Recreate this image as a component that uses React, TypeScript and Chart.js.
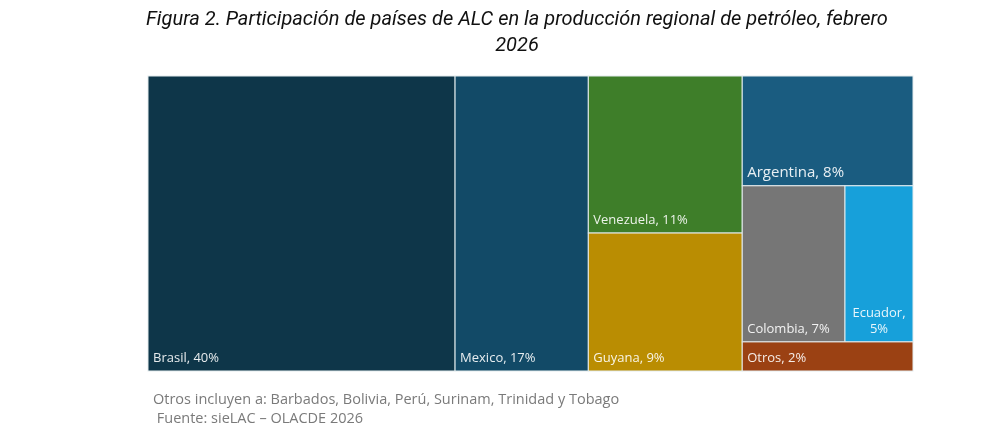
import React, { useEffect, useRef } from 'react';
import { Chart, registerables } from 'chart.js';

Chart.register(...registerables);

const titleLines = ['Figura 2. Participación de países de ALC en la producción regional de petróleo, febrero', '2026'];
const noteLines = ['Otros incluyen a: Barbados, Bolivia, Perú, Surinam, Trinidad y Tobago', ' Fuente: sieLAC – OLACDE 2026'];

const categories = ['Brasil', 'Mexico', 'Venezuela', 'Guyana', 'Argentina', 'Colombia', 'Ecuador', 'Otros'];
// shares (%); labels show them rounded
const shares = [40.1, 17.4, 10.7, 9.4, 8.3, 7.1, 4.7, 2.2];
const colors = ['#0E3649', '#124A67', '#3E7E29', '#BA8D02', '#1A5C80', '#767676', '#17A0DA', '#9B4113'];
const labelSizes = [13, 13, 13, 13, 15, 13, 13, 13];

// treemap nesting: columns left→right; each column stacks items top→bottom; an inner array splits a row side by side
const layoutTree: (string | string[])[][] = [
  ['Brasil'],
  ['Mexico'],
  ['Venezuela', 'Guyana'],
  ['Argentina', ['Colombia', 'Ecuador'], 'Otros'],
];

type Rect = { i: number; x0: number; x1: number; y0: number; y1: number };

const valOf = (name: string) => shares[categories.indexOf(name)];
const sumOf = (item: string | string[]) =>
  Array.isArray(item) ? item.reduce((s, n) => s + valOf(n), 0) : valOf(item);

function computeRects(): { rects: Rect[]; total: number } {
  const total = shares.reduce((a, b) => a + b, 0);
  const rects: Rect[] = [];
  let x = 0;
  for (const col of layoutTree) {
    const w = col.reduce((s, it) => s + sumOf(it), 0);
    let yTop = 100;
    for (const item of col) {
      const h = (sumOf(item) / w) * 100;
      if (Array.isArray(item)) {
        const rowSum = sumOf(item);
        let xx = x;
        for (const n of item) {
          const ww = (valOf(n) / rowSum) * w;
          rects.push({ i: categories.indexOf(n), x0: xx, x1: xx + ww, y0: yTop - h, y1: yTop });
          xx += ww;
        }
      } else {
        rects.push({ i: categories.indexOf(item), x0: x, x1: x + w, y0: yTop - h, y1: yTop });
      }
      yTop -= h;
    }
    x += w;
  }
  return { rects, total };
}

const LABEL_FONT = '"Open Sans", "Noto Sans", sans-serif';

const treemapPlugin = {
  id: 'treemapCells',
  afterDatasetsDraw(chart: any) {
    const { ctx } = chart;
    const xs = chart.scales.x;
    const ys = chart.scales.y;
    const { rects } = computeRects();
    ctx.save();
    for (const r of rects) {
      const left = xs.getPixelForValue(r.x0);
      const right = xs.getPixelForValue(r.x1);
      const top = ys.getPixelForValue(r.y1);
      const bottom = ys.getPixelForValue(r.y0);
      ctx.fillStyle = colors[r.i];
      ctx.fillRect(left, top, right - left, bottom - top);
      ctx.strokeStyle = '#E4ECEE';
      ctx.lineWidth = 1;
      ctx.strokeRect(left, top, right - left, bottom - top);

      const text = `${categories[r.i]}, ${Math.round(shares[r.i])}%`;
      const size = labelSizes[r.i];
      ctx.font = `${size}px ${LABEL_FONT}`;
      ctx.fillStyle = 'rgba(255,255,255,0.9)';
      ctx.textBaseline = 'alphabetic';
      const tw = ctx.measureText(text).width;
      if (tw > right - left - 10) {
        const parts = [`${categories[r.i]},`, `${Math.round(shares[r.i])}%`];
        ctx.textAlign = 'center';
        const cx = (left + right) / 2;
        const lh = size * 1.25;
        parts.forEach((p, k) => {
          ctx.fillText(p, cx, bottom - 9 - (parts.length - 1 - k) * lh);
        });
      } else {
        ctx.textAlign = 'left';
        ctx.fillText(text, left + 5, bottom - 9);
      }
    }
    ctx.restore();
  },
};

export default function App() {
  const canvasRef = useRef<HTMLCanvasElement | null>(null);

  useEffect(() => {
    if (!canvasRef.current) return;
    const { total } = computeRects();
    const chart = new Chart(canvasRef.current, {
      type: 'scatter',
      data: { datasets: [{ data: [], pointRadius: 0 }] },
      options: {
        animation: false,
        responsive: false,
        devicePixelRatio: 1,
        layout: { padding: { left: 148, right: 77, top: 76, bottom: 76 } },
        plugins: { legend: { display: false }, tooltip: { enabled: false }, title: { display: false } },
        scales: {
          x: { type: 'linear', min: 0, max: total, display: false },
          y: { type: 'linear', min: 0, max: 100, display: false },
        },
      },
      plugins: [treemapPlugin],
    });
    return () => chart.destroy();
  }, []);

  return (
    <div style={{ position: 'fixed', left: 0, top: 0, width: 990, height: 447, overflow: 'hidden', background: '#fff' }}>
      <canvas ref={canvasRef} width={990} height={447} style={{ position: 'absolute', left: 0, top: 0 }} />
      <div
        style={{
          position: 'absolute',
          left: 117,
          top: 5,
          width: 800,
          textAlign: 'center',
          fontFamily: 'Roboto, sans-serif',
          fontStyle: 'italic',
          fontSize: 20,
          lineHeight: '26px',
          color: '#111',
        }}
      >
        {titleLines.map((t, k) => (
          <div key={k}>{t}</div>
        ))}
      </div>
      <div
        style={{
          position: 'absolute',
          left: 153,
          top: 389,
          fontFamily: LABEL_FONT,
          fontSize: 14.5,
          lineHeight: '19px',
          color: '#7A7A7A',
          whiteSpace: 'pre',
        }}
      >
        {noteLines.map((t, k) => (
          <div key={k}>{t}</div>
        ))}
      </div>
    </div>
  );
}
